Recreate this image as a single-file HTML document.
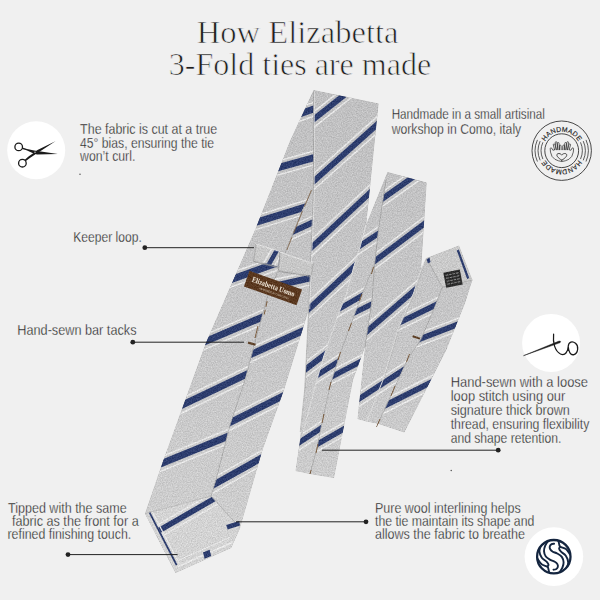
<!DOCTYPE html>
<html><head><meta charset="utf-8"><title>How Elizabetta 3-Fold ties are made</title>
<style>html,body{margin:0;padding:0;background:#f0f0f0;}svg{display:block}</style></head>
<body><svg width="600" height="600" viewBox="0 0 600 600">
<defs><clipPath id="c1"><polygon points="313.6,90.0 290.0,141.0 255.0,230.0 206.0,342.5 162.5,462.5 145.0,513.6 175.6,573.0 211.0,496.0 216.0,480.0 230.0,425.0 245.0,380.0 254.0,346.0 267.0,298.0 302.5,210.0 313.5,187.0 314.0,106.0"/></clipPath><clipPath id="c2"><polygon points="313.5,187.0 302.5,210.0 267.0,298.0 254.0,346.0 245.0,380.0 230.0,425.0 216.0,480.0 211.0,496.0 240.0,528.0 262.5,450.0 284.0,390.0 309.0,309.0 318.0,250.0 318.0,100.0"/></clipPath><clipPath id="c3"><polygon points="145.0,513.6 211.0,496.0 240.0,528.0 231.0,548.0 175.6,573.0"/></clipPath><clipPath id="c4"><polygon points="150.5,512.6 211.0,496.0 240.0,528.0 231.0,548.0 177.5,565.5"/></clipPath><clipPath id="c5"><polygon points="313.6,90.0 378.6,103.6 366.0,227.0 360.0,247.0 354.0,266.0 346.0,295.0 338.0,315.0 323.5,357.0 316.0,383.0 303.0,432.0 300.0,440.0 305.0,390.0 309.0,309.0 314.0,187.0"/></clipPath><clipPath id="c6"><polygon points="387.5,172.0 386.0,180.0 378.7,228.0 374.7,264.0 370.7,273.3 361.0,297.3 350.0,326.7 339.3,356.0 330.0,386.0 323.0,418.0 317.0,448.0 310.0,474.0 295.5,471.0 300.0,440.0 303.0,432.0 316.0,383.0 323.5,357.0 338.0,315.0 346.0,295.0 354.0,266.0 360.0,247.0 366.0,225.0"/></clipPath><clipPath id="c7"><polygon points="374.7,264.0 372.0,300.0 365.0,347.0 353.0,380.0 334.0,478.0 310.0,474.0 317.0,448.0 323.0,418.0 330.0,386.0 339.3,356.0 350.0,326.7 361.0,297.3 370.7,273.3"/></clipPath><clipPath id="c8"><polygon points="387.5,172.0 426.7,182.5 422.0,255.0 421.0,270.0 413.7,292.7 398.3,328.7 383.0,380.0 366.5,421.5 357.5,419.0 365.0,347.0 372.0,300.0 374.7,264.0 378.7,228.0 386.0,180.0"/></clipPath><clipPath id="c9"><polygon points="426.4,258.0 421.0,270.0 413.7,292.7 398.3,328.7 383.0,380.0 366.5,421.5 378.0,423.7 393.0,391.0 408.0,358.4 421.0,339.3 435.7,304.7 442.3,287.3"/></clipPath><clipPath id="c10"><polygon points="442.3,287.3 435.7,304.7 421.0,339.3 408.0,358.4 393.0,391.0 378.0,423.7 404.3,432.5 446.3,350.0 465.0,303.3 472.4,280.0"/></clipPath><clipPath id="c11"><polygon points="426.4,258.0 459.0,245.6 472.4,280.0 442.3,287.3"/></clipPath><clipPath id="c12"><polygon points="256.0,244.0 280.0,251.5 278.5,266.5 253.8,260.5"/></clipPath><clipPath id="c13"><polygon points="280.0,252.2 313.0,263.5 311.5,275.5 278.5,270.2"/></clipPath>
<linearGradient id="fabg" gradientUnits="userSpaceOnUse" x1="0" y1="90" x2="0" y2="575"><stop offset="0" stop-color="#c0c0c1"/><stop offset="0.5" stop-color="#c6c6c7"/><stop offset="1" stop-color="#d0d0d0"/></linearGradient>
<filter id="fab" x="0" y="0" width="100%" height="100%" color-interpolation-filters="sRGB">
<feTurbulence type="fractalNoise" baseFrequency="0.8" numOctaves="2" seed="7" result="n"/>
<feColorMatrix in="n" type="matrix" values="1 0 0 0 0  1 0 0 0 0  1 0 0 0 0  0 0 0 0 1" result="g"/>
<feComposite in="SourceGraphic" in2="g" operator="arithmetic" k1="0" k2="1" k3="0.22" k4="-0.11" result="m"/>
<feComposite in="m" in2="SourceAlpha" operator="in"/>
</filter></defs>
<rect width="600" height="600" fill="#f0f0f0"/>
<g id="tie" filter="url(#fab)">
<polygon points="313.6,90.0 290.0,141.0 255.0,230.0 206.0,342.5 162.5,462.5 145.0,513.6 175.6,573.0 211.0,496.0 216.0,480.0 230.0,425.0 245.0,380.0 254.0,346.0 267.0,298.0 302.5,210.0 313.5,187.0 314.0,106.0" fill="url(#fabg)"/>
<g clip-path="url(#c1)"><line x1="275.4" y1="122.4" x2="342.8" y2="98.9" stroke="#2d3d6e" stroke-width="6.9"/><line x1="273.3" y1="116.4" x2="340.7" y2="92.9" stroke="#e8e8e8" stroke-width="1.4"/><line x1="277.7" y1="128.9" x2="345.1" y2="105.4" stroke="#e8e8e8" stroke-width="1.4"/><line x1="249.9" y1="175.6" x2="343.4" y2="149.4" stroke="#2d3d6e" stroke-width="6.9"/><line x1="248.1" y1="169.5" x2="341.7" y2="143.3" stroke="#e8e8e8" stroke-width="1.4"/><line x1="251.7" y1="182.3" x2="345.3" y2="156.1" stroke="#e8e8e8" stroke-width="1.4"/><line x1="226.3" y1="231.3" x2="332.4" y2="198.7" stroke="#2d3d6e" stroke-width="6.9"/><line x1="224.5" y1="225.3" x2="330.6" y2="192.6" stroke="#e8e8e8" stroke-width="1.4"/><line x1="228.4" y1="238.0" x2="334.5" y2="205.3" stroke="#e8e8e8" stroke-width="1.4"/><line x1="201.8" y1="290.3" x2="285.7" y2="259.7" stroke="#2d3d6e" stroke-width="6.9"/><line x1="199.6" y1="284.3" x2="283.5" y2="253.8" stroke="#e8e8e8" stroke-width="1.4"/><line x1="204.2" y1="296.8" x2="288.1" y2="266.3" stroke="#e8e8e8" stroke-width="1.4"/><line x1="181.2" y1="351.8" x2="292.6" y2="304.2" stroke="#2d3d6e" stroke-width="6.9"/><line x1="178.7" y1="345.9" x2="290.1" y2="298.4" stroke="#e8e8e8" stroke-width="1.4"/><line x1="183.9" y1="358.2" x2="295.3" y2="310.6" stroke="#e8e8e8" stroke-width="1.4"/><line x1="157.9" y1="416.7" x2="272.1" y2="362.0" stroke="#2d3d6e" stroke-width="6.9"/><line x1="155.2" y1="411.0" x2="269.3" y2="356.3" stroke="#e8e8e8" stroke-width="1.4"/><line x1="160.9" y1="423.0" x2="275.1" y2="368.3" stroke="#e8e8e8" stroke-width="1.4"/><line x1="136.0" y1="473.8" x2="252.8" y2="426.2" stroke="#2d3d6e" stroke-width="6.9"/><line x1="133.6" y1="468.0" x2="250.4" y2="420.3" stroke="#e8e8e8" stroke-width="1.4"/><line x1="138.6" y1="480.3" x2="255.4" y2="432.6" stroke="#e8e8e8" stroke-width="1.4"/></g>
<polygon points="313.5,187.0 302.5,210.0 267.0,298.0 254.0,346.0 245.0,380.0 230.0,425.0 216.0,480.0 211.0,496.0 240.0,528.0 262.5,450.0 284.0,390.0 309.0,309.0 318.0,250.0 318.0,100.0" fill="url(#fabg)"/>
<g clip-path="url(#c2)"><line x1="270.3" y1="242.1" x2="340.5" y2="209.6" stroke="#2d3d6e" stroke-width="6.0"/><line x1="267.8" y1="236.7" x2="338.1" y2="204.3" stroke="#e8e8e8" stroke-width="1.4"/><line x1="273.0" y1="248.0" x2="343.3" y2="215.5" stroke="#e8e8e8" stroke-width="1.4"/><line x1="260.7" y1="288.9" x2="333.1" y2="273.1" stroke="#2d3d6e" stroke-width="6.7"/><line x1="259.4" y1="282.8" x2="331.7" y2="267.0" stroke="#e8e8e8" stroke-width="1.4"/><line x1="262.1" y1="295.6" x2="334.5" y2="279.8" stroke="#e8e8e8" stroke-width="1.4"/><line x1="224.4" y1="366.4" x2="329.8" y2="318.6" stroke="#2d3d6e" stroke-width="6.7"/><line x1="221.8" y1="360.7" x2="327.3" y2="312.9" stroke="#e8e8e8" stroke-width="1.4"/><line x1="227.2" y1="372.6" x2="332.7" y2="324.9" stroke="#e8e8e8" stroke-width="1.4"/><line x1="203.2" y1="435.9" x2="306.8" y2="384.1" stroke="#2d3d6e" stroke-width="6.7"/><line x1="200.4" y1="430.3" x2="304.0" y2="378.5" stroke="#e8e8e8" stroke-width="1.4"/><line x1="206.2" y1="442.0" x2="309.9" y2="390.2" stroke="#e8e8e8" stroke-width="1.4"/><line x1="182.6" y1="502.2" x2="286.2" y2="444.1" stroke="#2d3d6e" stroke-width="6.7"/><line x1="179.5" y1="496.7" x2="283.1" y2="438.6" stroke="#e8e8e8" stroke-width="1.4"/><line x1="185.9" y1="508.2" x2="289.5" y2="450.0" stroke="#e8e8e8" stroke-width="1.4"/></g>
<polygon points="145.0,513.6 211.0,496.0 240.0,528.0 231.0,548.0 175.6,573.0" fill="#d3d3d3"/>
<g clip-path="url(#c3)"></g>
<polygon points="150.5,512.6 211.0,496.0 240.0,528.0 231.0,548.0 177.5,565.5" fill="#d3d3d3"/>
<g clip-path="url(#c4)"><line x1="134.0" y1="545.0" x2="238.0" y2="485.0" stroke="#2d3d6e" stroke-width="5.6"/><line x1="131.2" y1="540.1" x2="235.1" y2="480.1" stroke="#e8e8e8" stroke-width="1.4"/><line x1="137.2" y1="550.4" x2="241.1" y2="490.5" stroke="#e8e8e8" stroke-width="1.4"/></g>
<polygon points="313.6,90.0 378.6,103.6 366.0,227.0 360.0,247.0 354.0,266.0 346.0,295.0 338.0,315.0 323.5,357.0 316.0,383.0 303.0,432.0 300.0,440.0 305.0,390.0 309.0,309.0 314.0,187.0" fill="url(#fabg)"/>
<g clip-path="url(#c5)"><line x1="291.8" y1="136.6" x2="361.5" y2="81.4" stroke="#2d3d6e" stroke-width="5.8"/><line x1="288.2" y1="132.1" x2="357.9" y2="76.8" stroke="#e8e8e8" stroke-width="1.4"/><line x1="295.8" y1="141.7" x2="365.5" y2="86.4" stroke="#e8e8e8" stroke-width="1.4"/><line x1="292.9" y1="199.7" x2="400.4" y2="103.7" stroke="#2d3d6e" stroke-width="5.8"/><line x1="289.1" y1="195.4" x2="396.5" y2="99.4" stroke="#e8e8e8" stroke-width="1.4"/><line x1="297.2" y1="204.5" x2="404.6" y2="108.5" stroke="#e8e8e8" stroke-width="1.4"/><line x1="292.1" y1="265.5" x2="391.9" y2="172.3" stroke="#2d3d6e" stroke-width="5.8"/><line x1="288.1" y1="261.2" x2="388.0" y2="168.1" stroke="#e8e8e8" stroke-width="1.4"/><line x1="296.4" y1="270.1" x2="396.3" y2="177.0" stroke="#e8e8e8" stroke-width="1.4"/><line x1="289.4" y1="327.2" x2="374.6" y2="247.5" stroke="#2d3d6e" stroke-width="5.8"/><line x1="285.4" y1="322.9" x2="370.7" y2="243.3" stroke="#e8e8e8" stroke-width="1.4"/><line x1="293.8" y1="331.9" x2="379.0" y2="252.2" stroke="#e8e8e8" stroke-width="1.4"/><line x1="282.2" y1="387.3" x2="347.1" y2="337.4" stroke="#2d3d6e" stroke-width="5.8"/><line x1="278.7" y1="382.7" x2="343.5" y2="332.8" stroke="#e8e8e8" stroke-width="1.4"/><line x1="286.1" y1="392.4" x2="351.0" y2="342.5" stroke="#e8e8e8" stroke-width="1.4"/></g>
<polygon points="387.5,172.0 386.0,180.0 378.7,228.0 374.7,264.0 370.7,273.3 361.0,297.3 350.0,326.7 339.3,356.0 330.0,386.0 323.0,418.0 317.0,448.0 310.0,474.0 295.5,471.0 300.0,440.0 303.0,432.0 316.0,383.0 323.5,357.0 338.0,315.0 346.0,295.0 354.0,266.0 360.0,247.0 366.0,225.0" fill="url(#fabg)"/>
<g clip-path="url(#c6)"><line x1="335.7" y1="261.9" x2="403.7" y2="216.7" stroke="#2d3d6e" stroke-width="5.4"/><line x1="332.6" y1="257.3" x2="400.6" y2="212.0" stroke="#e8e8e8" stroke-width="1.4"/><line x1="339.2" y1="267.1" x2="407.1" y2="221.8" stroke="#e8e8e8" stroke-width="1.4"/><line x1="313.0" y1="324.0" x2="391.0" y2="279.0" stroke="#2d3d6e" stroke-width="5.4"/><line x1="310.2" y1="319.1" x2="388.2" y2="274.2" stroke="#e8e8e8" stroke-width="1.4"/><line x1="316.1" y1="329.4" x2="394.1" y2="284.4" stroke="#e8e8e8" stroke-width="1.4"/><line x1="292.3" y1="391.2" x2="366.0" y2="343.8" stroke="#2d3d6e" stroke-width="5.4"/><line x1="289.2" y1="386.5" x2="363.0" y2="339.1" stroke="#e8e8e8" stroke-width="1.4"/><line x1="295.6" y1="396.5" x2="369.4" y2="349.0" stroke="#e8e8e8" stroke-width="1.4"/><line x1="274.9" y1="458.4" x2="348.1" y2="410.6" stroke="#2d3d6e" stroke-width="5.4"/><line x1="271.8" y1="453.7" x2="345.1" y2="405.9" stroke="#e8e8e8" stroke-width="1.4"/><line x1="278.3" y1="463.6" x2="351.5" y2="415.8" stroke="#e8e8e8" stroke-width="1.4"/></g>
<polygon points="374.7,264.0 372.0,300.0 365.0,347.0 353.0,380.0 334.0,478.0 310.0,474.0 317.0,448.0 323.0,418.0 330.0,386.0 339.3,356.0 350.0,326.7 361.0,297.3 370.7,273.3" fill="url(#fabg)"/>
<g clip-path="url(#c7)"><line x1="331.2" y1="324.4" x2="394.8" y2="292.6" stroke="#2d3d6e" stroke-width="5.4"/><line x1="328.7" y1="319.4" x2="392.3" y2="287.6" stroke="#e8e8e8" stroke-width="1.4"/><line x1="333.9" y1="330.0" x2="397.6" y2="298.1" stroke="#e8e8e8" stroke-width="1.4"/><line x1="310.4" y1="387.9" x2="386.6" y2="348.1" stroke="#2d3d6e" stroke-width="5.4"/><line x1="307.8" y1="382.9" x2="384.0" y2="343.2" stroke="#e8e8e8" stroke-width="1.4"/><line x1="313.3" y1="393.4" x2="389.5" y2="353.6" stroke="#e8e8e8" stroke-width="1.4"/><line x1="295.0" y1="456.9" x2="368.0" y2="415.1" stroke="#2d3d6e" stroke-width="5.4"/><line x1="292.2" y1="452.0" x2="365.3" y2="410.3" stroke="#e8e8e8" stroke-width="1.4"/><line x1="298.0" y1="462.3" x2="371.1" y2="420.5" stroke="#e8e8e8" stroke-width="1.4"/></g>
<polygon points="387.5,172.0 426.7,182.5 422.0,255.0 421.0,270.0 413.7,292.7 398.3,328.7 383.0,380.0 366.5,421.5 357.5,419.0 365.0,347.0 372.0,300.0 374.7,264.0 378.7,228.0 386.0,180.0" fill="url(#fabg)"/>
<g clip-path="url(#c8)"><line x1="359.7" y1="214.8" x2="437.0" y2="160.2" stroke="#2d3d6e" stroke-width="5.6"/><line x1="356.4" y1="210.2" x2="433.7" y2="155.5" stroke="#e8e8e8" stroke-width="1.4"/><line x1="363.3" y1="220.0" x2="440.6" y2="165.3" stroke="#e8e8e8" stroke-width="1.4"/><line x1="354.3" y1="276.3" x2="445.7" y2="207.8" stroke="#2d3d6e" stroke-width="5.6"/><line x1="350.9" y1="271.7" x2="442.3" y2="203.3" stroke="#e8e8e8" stroke-width="1.4"/><line x1="358.1" y1="281.3" x2="449.5" y2="212.9" stroke="#e8e8e8" stroke-width="1.4"/><line x1="344.7" y1="350.6" x2="436.7" y2="271.1" stroke="#2d3d6e" stroke-width="5.6"/><line x1="341.0" y1="346.3" x2="433.0" y2="266.8" stroke="#e8e8e8" stroke-width="1.4"/><line x1="348.8" y1="355.4" x2="440.8" y2="275.8" stroke="#e8e8e8" stroke-width="1.4"/><line x1="335.2" y1="414.4" x2="432.2" y2="351.3" stroke="#2d3d6e" stroke-width="5.6"/><line x1="332.1" y1="409.6" x2="429.0" y2="346.6" stroke="#e8e8e8" stroke-width="1.4"/><line x1="338.7" y1="419.6" x2="435.6" y2="356.6" stroke="#e8e8e8" stroke-width="1.4"/></g>
<polygon points="426.4,258.0 421.0,270.0 413.7,292.7 398.3,328.7 383.0,380.0 366.5,421.5 378.0,423.7 393.0,391.0 408.0,358.4 421.0,339.3 435.7,304.7 442.3,287.3" fill="url(#fabg)"/>
<g clip-path="url(#c9)"><line x1="375.3" y1="334.5" x2="463.3" y2="291.5" stroke="#2d3d6e" stroke-width="5.6"/><line x1="372.8" y1="329.3" x2="460.8" y2="286.4" stroke="#e8e8e8" stroke-width="1.4"/><line x1="378.1" y1="340.1" x2="466.0" y2="297.2" stroke="#e8e8e8" stroke-width="1.4"/><line x1="335.2" y1="414.4" x2="432.2" y2="351.3" stroke="#2d3d6e" stroke-width="5.6"/><line x1="332.1" y1="409.6" x2="429.0" y2="346.6" stroke="#e8e8e8" stroke-width="1.4"/><line x1="338.7" y1="419.6" x2="435.6" y2="356.6" stroke="#e8e8e8" stroke-width="1.4"/></g>
<polygon points="442.3,287.3 435.7,304.7 421.0,339.3 408.0,358.4 393.0,391.0 378.0,423.7 404.3,432.5 446.3,350.0 465.0,303.3 472.4,280.0" fill="url(#fabg)"/>
<g clip-path="url(#c10)"><line x1="394.3" y1="348.8" x2="479.7" y2="315.9" stroke="#2d3d6e" stroke-width="5.6"/><line x1="392.3" y1="343.4" x2="477.7" y2="310.6" stroke="#e8e8e8" stroke-width="1.4"/><line x1="396.6" y1="354.6" x2="482.0" y2="321.8" stroke="#e8e8e8" stroke-width="1.4"/><line x1="365.2" y1="415.4" x2="446.8" y2="374.6" stroke="#2d3d6e" stroke-width="5.6"/><line x1="362.6" y1="410.3" x2="444.3" y2="369.5" stroke="#e8e8e8" stroke-width="1.4"/><line x1="368.0" y1="421.1" x2="449.7" y2="380.2" stroke="#e8e8e8" stroke-width="1.4"/></g>
<polygon points="426.4,258.0 459.0,245.6 472.4,280.0 442.3,287.3" fill="#cacaca"/>
<g clip-path="url(#c11)"></g>
<polyline points="313.5,92.0 313.6,187.0 308.6,309.0 304.6,390.0 300.2,432.0" fill="none" stroke="#a8a8a8" stroke-width="0.9" opacity="0.8"/>
<polyline points="314.5,92.0 314.6,187.0 309.7,309.0" fill="none" stroke="#e4e4e4" stroke-width="0.8" opacity="0.8"/>
<polyline points="313.5,187.0 302.5,210.0 267.0,298.0 254.0,346.0 245.0,380.0 230.0,425.0 216.0,480.0 211.0,496.0" fill="none" stroke="#adadad" stroke-width="0.8" opacity="0.8"/>
<polyline points="211.0,496.0 240.0,528.0" fill="none" stroke="#b2b2b2" stroke-width="0.8"/>
<polyline points="145.0,513.6 211.0,496.0" fill="none" stroke="#b8b8b8" stroke-width="0.8"/>
<polyline points="366.0,225.0 360.0,247.0 354.0,266.0 346.0,295.0 338.0,315.0 323.5,357.0 316.0,383.0 303.0,432.0" fill="none" stroke="#e4e4e4" stroke-width="1.0" opacity="0.9"/>
<polyline points="386.0,180.0 378.7,228.0 374.7,264.0 372.0,300.0 365.0,347.0" fill="none" stroke="#a8a8a8" stroke-width="0.9" opacity="0.8"/>
<polyline points="374.7,264.0 370.7,273.3 361.0,297.3 350.0,326.7 339.3,356.0 330.0,386.0 323.0,418.0 317.0,448.0 310.0,474.0" fill="none" stroke="#b0b0b0" stroke-width="0.8" opacity="0.8"/>
<polyline points="426.4,258.0 421.0,270.0 413.7,292.7 398.3,328.7 383.0,380.0 366.5,421.5" fill="none" stroke="#e4e4e4" stroke-width="1.0" opacity="0.9"/>
<polyline points="427.3,258.0 421.9,270.0 414.6,292.7 399.2,328.7 383.9,380.0" fill="none" stroke="#a8a8a8" stroke-width="0.7" opacity="0.6"/>
<polyline points="442.3,287.3 435.7,304.7 421.0,339.3 408.0,358.4 393.0,391.0 378.0,423.7" fill="none" stroke="#adadad" stroke-width="0.8" opacity="0.8"/>
<polyline points="426.4,258.0 442.3,287.3 472.4,280.0" fill="none" stroke="#b0b0b0" stroke-width="0.8"/>
<polygon points="226.2,525.0 239.2,521.0 240.0,525.5 227.6,529.5" fill="#2d3d6e"/>
<polyline points="149.6,512.6 176.6,565.0" fill="none" stroke="#2d3d6e" stroke-width="1.7"/>
<polyline points="152.5,512.0 179.0,563.5" fill="none" stroke="#e8e8e8" stroke-width="1.2"/>
<polyline points="178.0,566.5 232.0,542.5" fill="none" stroke="#e8e8e8" stroke-width="1.6"/>
<polyline points="176.8,561.0 229.5,537.5" fill="none" stroke="#e8e8e8" stroke-width="1.0"/>
<polygon points="203.0,552.6 209.6,549.8 211.2,556.0 204.6,558.8" fill="#2d3d6e"/>
<polygon points="256.0,244.0 280.0,251.5 278.5,266.5 253.8,260.5" fill="#c9c9c9"/>
<g clip-path="url(#c12)"><line x1="252.5" y1="293.4" x2="291.8" y2="223.9" stroke="#2d3d6e" stroke-width="4.4"/><line x1="248.0" y1="290.9" x2="287.3" y2="221.4" stroke="#e8e8e8" stroke-width="1.4"/><line x1="257.5" y1="296.2" x2="296.7" y2="226.7" stroke="#e8e8e8" stroke-width="1.4"/></g>
<polygon points="280.0,252.2 313.0,263.5 311.5,275.5 278.5,270.2" fill="#c7c7c7"/>
<g clip-path="url(#c13)"></g>
<polyline points="280.0,251.5 278.5,270.0" fill="none" stroke="#9a9a9a" stroke-width="0.9"/>
<polyline points="253.2,261.3 278.3,267.4" fill="none" stroke="#9c9c9c" stroke-width="1.3" opacity="0.8"/>
<polyline points="278.3,271.0 311.3,276.4" fill="none" stroke="#9c9c9c" stroke-width="1.3" opacity="0.8"/>
<polyline points="256.0,244.0 253.8,260.5" fill="none" stroke="#a2a2a2" stroke-width="1.0" opacity="0.8"/>
<polyline points="256.0,244.0 280.0,251.5" fill="none" stroke="#e3e3e3" stroke-width="0.9"/>
<polyline points="280.0,252.2 313.0,263.5" fill="none" stroke="#e3e3e3" stroke-width="0.9"/>
<polyline points="313.0,263.5 311.5,275.5" fill="none" stroke="#a2a2a2" stroke-width="0.9" opacity="0.8"/>
<polyline points="311.5,190.0 302.5,211.0 286.8,250.0" fill="none" stroke="#7b5c3e" stroke-width="0.9" opacity="0.85" stroke-dasharray="18 5 24 4 20 3"/>
<polyline points="267.2,301.0 264.2,314.5" fill="none" stroke="#7b5c3e" stroke-width="1.0" stroke-dasharray="6 3"/>
<polyline points="258.0,326.0 255.0,338.0" fill="none" stroke="#7b5c3e" stroke-width="1.0"/>
<polyline points="248.0,342.6 255.6,344.8" fill="none" stroke="#5d4027" stroke-width="2.2"/>
<g transform="translate(273,288) rotate(19.6)"><rect x="-27.9" y="-8.3" width="55.8" height="16.6" fill="#5a381f"/><text x="0" y="1.2" text-anchor="middle" font-family="'Liberation Serif', serif" font-weight="bold" font-size="7.6" fill="#efe6d8" textLength="45" lengthAdjust="spacingAndGlyphs">Elizabetta Uomo</text><text x="3" y="5.6" text-anchor="middle" font-family="'Liberation Sans', sans-serif" font-size="2.6" fill="#d8cbb8" textLength="32" lengthAdjust="spacingAndGlyphs">HANDMADE IN COMO, ITALY</text></g>
<polyline points="373.5,267.0 371.5,274.0" fill="none" stroke="#7b5c3e" stroke-width="1.0"/>
<polyline points="362.0,294.0 359.5,301.0" fill="none" stroke="#7b5c3e" stroke-width="1.0"/>
<polyline points="351.5,323.0 348.5,331.0" fill="none" stroke="#7b5c3e" stroke-width="1.0"/>
<polyline points="340.5,352.0 338.0,360.0" fill="none" stroke="#7b5c3e" stroke-width="1.0"/>
<polyline points="331.0,382.0 329.0,390.0" fill="none" stroke="#7b5c3e" stroke-width="1.0"/>
<polyline points="324.0,414.0 322.0,423.0" fill="none" stroke="#7b5c3e" stroke-width="1.0"/>
<polyline points="318.0,444.0 316.0,453.0" fill="none" stroke="#7b5c3e" stroke-width="1.0"/>
<polyline points="311.0,470.0 310.0,474.0" fill="none" stroke="#7b5c3e" stroke-width="1.0"/>
<polyline points="412.6,336.2 420.0,338.6" fill="none" stroke="#5d4027" stroke-width="2.0"/>
<polyline points="409.5,354.0 406.5,362.0" fill="none" stroke="#7b5c3e" stroke-width="1.0"/>
<polyline points="395.0,386.0 391.0,396.0" fill="none" stroke="#7b5c3e" stroke-width="1.0"/>
<polyline points="380.0,419.0 376.5,427.0" fill="none" stroke="#7b5c3e" stroke-width="1.0"/>
<polyline points="457.8,250.0 468.2,278.5" fill="none" stroke="#2d3d6e" stroke-width="2.2"/>
<polygon points="426.6,259.5 429.5,257.5 430.5,262.0 428.0,263.5" fill="#2d3d6e"/>
<g transform="translate(453,278.6) rotate(-11)"><rect x="-8.4" y="-7.6" width="16.8" height="15.2" fill="#2b2b2b"/><g stroke="#9a9a9a" stroke-width="0.8"><line x1="-6.6" y1="-4.6" x2="6.6" y2="-4.6"/><line x1="-6.6" y1="-1.6" x2="6.6" y2="-1.6"/><line x1="-6.6" y1="1.4" x2="6.6" y2="1.4"/><line x1="-6.6" y1="4.4" x2="6.6" y2="4.4"/></g><g stroke="#2b2b2b" stroke-width="0.9"><line x1="0" y1="-7" x2="0" y2="7"/><line x1="-3.4" y1="-7" x2="-3.4" y2="7"/><line x1="3.4" y1="-7" x2="3.4" y2="7"/></g></g>
</g>
<text x="196.8" y="42.6" font-family="'Liberation Serif', serif" font-size="32" fill="#1e1e1e" textLength="201.7" lengthAdjust="spacingAndGlyphs" stroke="#f0f0f0" stroke-width="0.7">How Elizabetta</text>
<text x="168.8" y="75.3" font-family="'Liberation Serif', serif" font-size="32" fill="#1e1e1e" textLength="262.4" lengthAdjust="spacingAndGlyphs" stroke="#f0f0f0" stroke-width="0.7">3-Fold ties are made</text>
<text x="80.1" y="133.7" font-family="'Liberation Sans', sans-serif" font-size="13.9" fill="#181818" textLength="137.1" lengthAdjust="spacingAndGlyphs" stroke="#f0f0f0" stroke-width="0.28">The fabric is cut at a true</text>
<text x="80.1" y="147.5" font-family="'Liberation Sans', sans-serif" font-size="13.9" fill="#181818" textLength="133.9" lengthAdjust="spacingAndGlyphs" stroke="#f0f0f0" stroke-width="0.28">45° bias, ensuring the tie</text>
<text x="80.1" y="160.9" font-family="'Liberation Sans', sans-serif" font-size="13.9" fill="#181818" textLength="55.2" lengthAdjust="spacingAndGlyphs" stroke="#f0f0f0" stroke-width="0.28">won’t curl.</text>
<circle cx="80" cy="174.2" r="0.7" fill="#444"/>
<text x="73.3" y="242.3" font-family="'Liberation Sans', sans-serif" font-size="13.9" fill="#181818" textLength="68.5" lengthAdjust="spacingAndGlyphs" stroke="#f0f0f0" stroke-width="0.28">Keeper loop.</text>
<text x="17.3" y="335.1" font-family="'Liberation Sans', sans-serif" font-size="13.9" fill="#181818" textLength="119.2" lengthAdjust="spacingAndGlyphs" stroke="#f0f0f0" stroke-width="0.28">Hand-sewn bar tacks</text>
<text x="8" y="512.7" font-family="'Liberation Sans', sans-serif" font-size="13.9" fill="#181818" textLength="118.7" lengthAdjust="spacingAndGlyphs" stroke="#f0f0f0" stroke-width="0.28">Tipped with the same</text>
<text x="12" y="526" font-family="'Liberation Sans', sans-serif" font-size="13.9" fill="#181818" textLength="126.7" lengthAdjust="spacingAndGlyphs" stroke="#f0f0f0" stroke-width="0.28">fabric as the front for a</text>
<text x="7.5" y="539.3" font-family="'Liberation Sans', sans-serif" font-size="13.9" fill="#181818" textLength="123.7" lengthAdjust="spacingAndGlyphs" stroke="#f0f0f0" stroke-width="0.28">refined finishing touch.</text>
<text x="391.7" y="118.8" font-family="'Liberation Sans', sans-serif" font-size="13.9" fill="#181818" textLength="153.2" lengthAdjust="spacingAndGlyphs" stroke="#f0f0f0" stroke-width="0.28">Handmade in a small artisinal</text>
<text x="391.7" y="133.5" font-family="'Liberation Sans', sans-serif" font-size="13.9" fill="#181818" textLength="129.5" lengthAdjust="spacingAndGlyphs" stroke="#f0f0f0" stroke-width="0.28">workshop in Como, italy</text>
<text x="450.7" y="387.3" font-family="'Liberation Sans', sans-serif" font-size="13.9" fill="#181818" textLength="137.3" lengthAdjust="spacingAndGlyphs" stroke="#f0f0f0" stroke-width="0.28">Hand-sewn with a loose</text>
<text x="450.7" y="401.2" font-family="'Liberation Sans', sans-serif" font-size="13.9" fill="#181818" textLength="114.6" lengthAdjust="spacingAndGlyphs" stroke="#f0f0f0" stroke-width="0.28">loop stitch using our</text>
<text x="450.7" y="414.8" font-family="'Liberation Sans', sans-serif" font-size="13.9" fill="#181818" textLength="119.2" lengthAdjust="spacingAndGlyphs" stroke="#f0f0f0" stroke-width="0.28">signature thick brown</text>
<text x="450.7" y="428.7" font-family="'Liberation Sans', sans-serif" font-size="13.9" fill="#181818" textLength="138.6" lengthAdjust="spacingAndGlyphs" stroke="#f0f0f0" stroke-width="0.28">thread, ensuring flexibility</text>
<text x="450.7" y="442.5" font-family="'Liberation Sans', sans-serif" font-size="13.9" fill="#181818" textLength="110.6" lengthAdjust="spacingAndGlyphs" stroke="#f0f0f0" stroke-width="0.28">and shape retention.</text>
<circle cx="451.2" cy="470.5" r="0.7" fill="#444"/>
<text x="375" y="512.7" font-family="'Liberation Sans', sans-serif" font-size="13.9" fill="#181818" textLength="145.7" lengthAdjust="spacingAndGlyphs" stroke="#f0f0f0" stroke-width="0.28">Pure wool interlining helps</text>
<text x="375" y="526" font-family="'Liberation Sans', sans-serif" font-size="13.9" fill="#181818" textLength="159.3" lengthAdjust="spacingAndGlyphs" stroke="#f0f0f0" stroke-width="0.28">the tie maintain its shape and</text>
<text x="375" y="539.3" font-family="'Liberation Sans', sans-serif" font-size="13.9" fill="#181818" textLength="150" lengthAdjust="spacingAndGlyphs" stroke="#f0f0f0" stroke-width="0.28">allows the fabric to breathe</text>
<line x1="144.8" y1="247.7" x2="254" y2="247.7" stroke="#222" stroke-width="1"/><circle cx="144.8" cy="247.7" r="2.4" fill="#222"/>
<line x1="132.8" y1="342.2" x2="244" y2="342.2" stroke="#222" stroke-width="1"/><circle cx="132.8" cy="342.2" r="2.4" fill="#222"/>
<line x1="68" y1="554.6" x2="177.6" y2="554.6" stroke="#222" stroke-width="1"/><circle cx="68" cy="554.6" r="2.4" fill="#222"/>
<line x1="236" y1="521.8" x2="366" y2="521.8" stroke="#222" stroke-width="1"/><circle cx="366" cy="521.8" r="2.4" fill="#222"/>
<line x1="322" y1="450.2" x2="498.2" y2="450.2" stroke="#222" stroke-width="1"/><circle cx="498.2" cy="450.2" r="2.4" fill="#222"/>
<circle cx="36.2" cy="150.3" r="29" fill="#fff"/>
<g fill="none" stroke="#1a1a1a" stroke-width="1.3">
<circle cx="18.7" cy="146.9" r="3.8"/><circle cx="22.4" cy="163.2" r="3.8"/>
</g>
<path d="M22.4,147.6 L27,148.9 L34.2,150.5 L37.5,151.1 L57.8,154.1 L37,154.4 L33.6,153.4 L26.5,150.3 L22.1,149.1 Z" fill="#1a1a1a"/>
<path d="M24.5,159.9 L28.5,156.5 L32.8,153.6 L37.5,150 L55.4,141.2 L41,150.7 L37.5,152.8 L34,155.3 L29.5,158.2 L25.6,161.2 Z" fill="#1a1a1a"/>
<circle cx="35" cy="152.2" r="0.65" fill="#fff"/>
<circle cx="551.1" cy="342.9" r="29" fill="#fff"/>
<path d="M523.5,355.7 L558.5,341.3 Q560.8,340.6 560.6,341.8 Q560.3,342.9 558.9,343.1 Z" fill="#1a1a1a" stroke="#1a1a1a" stroke-width="0.5" stroke-linejoin="round"/>
<path d="M553.6,334.2 C552.8,342 554.5,351 560.5,354 C565.5,356.2 568,351 568.2,346.5 C568.5,341.5 572.5,340.8 575.5,343.2 C579,346 578.2,353 574,354.6 C570.5,355.6 568.6,351.5 568.2,346.5" fill="none" stroke="#1a1a1a" stroke-width="1.25" stroke-linecap="round"/>
<g fill="none" stroke="#333" stroke-width="0.9">
<circle cx="561.7" cy="150.7" r="29.7"/><circle cx="561.7" cy="150.7" r="16.9"/>
</g>
<g fill="none" stroke="#333" stroke-width="0.8"><path d="M580.52,142.32 A20.6,20.6 0 0 1 580.52,159.08"/><path d="M542.88,159.08 A20.6,20.6 0 0 1 542.88,142.32"/><path d="M583.26,141.10 A23.6,23.6 0 0 1 583.26,160.30"/><path d="M540.14,160.30 A23.6,23.6 0 0 1 540.14,141.10"/><path d="M586.00,139.88 A26.6,26.6 0 0 1 586.00,161.52"/><path d="M537.40,161.52 A26.6,26.6 0 0 1 537.40,139.88"/></g>
<path id="arcT" d="M542.7,150.7 A19.0,19.0 0 0 1 580.7,150.7" fill="none"/>
<path id="arcB" d="M580.7,150.7 A19.0,19.0 0 0 1 542.7,150.7" fill="none"/>
<text font-family="'Liberation Sans', sans-serif" font-size="6.9" fill="#222" letter-spacing="0.1" stroke="#222" stroke-width="0.15" text-anchor="middle"><textPath href="#arcT" startOffset="50%">HANDMADE</textPath></text>
<text font-family="'Liberation Sans', sans-serif" font-size="6.9" fill="#222" letter-spacing="0.1" stroke="#222" stroke-width="0.15" text-anchor="middle"><textPath href="#arcB" startOffset="50%">HANDMADE</textPath></text>
<g fill="none" stroke="#333" stroke-width="0.75" stroke-linejoin="round" stroke-linecap="round" transform="translate(561.9,150.9)">
<path d="M-7.29,-1.20 L-8.65,-6.15 A0.85,0.85 0 0 1 -6.95,-6.15 L-5.59,-1.20 M5.59,-1.20 L6.95,-6.15 A0.85,0.85 0 0 1 8.65,-6.15 L7.29,-1.20 M-5.69,-1.20 L-6.65,-8.35 A0.85,0.85 0 0 1 -4.95,-8.35 L-3.99,-1.20 M3.99,-1.20 L4.95,-8.35 A0.85,0.85 0 0 1 6.65,-8.35 L5.69,-1.20 M-4.01,-1.20 L-4.55,-7.55 A0.85,0.85 0 0 1 -2.85,-7.55 L-2.31,-1.20 M2.31,-1.20 L2.85,-7.55 A0.85,0.85 0 0 1 4.55,-7.55 L4.01,-1.20 M-2.41,-1.20 L-2.55,-4.95 A0.85,0.85 0 0 1 -0.85,-4.95 L-0.71,-1.20 M0.71,-1.20 L0.85,-4.95 A0.85,0.85 0 0 1 2.55,-4.95 L2.41,-1.20 "/>
<path d="M-7.3,-1.2 L-9.0,-0.6 L-10.3,-2.9 Q-11.4,-3.6 -11.7,-2.2 L-11.4,1.2 Q-10.6,6.2 -7.0,8.4 Q-3.4,10.3 -0.3,10.6"/><path d="M7.3,-1.2 L9.0,-0.6 L10.3,-2.9 Q11.4,-3.6 11.7,-2.2 L11.4,1.2 Q10.6,6.2 7.0,8.4 Q3.4,10.3 0.3,10.6"/>
<path d="M-0.1,9.3 C-6.6,5.6 -5.8,2.6 -3.0,2.6 C-1.2,2.6 -0.1,4.2 -0.1,4.2 C-0.1,4.2 1.0,2.6 2.8,2.6 C5.6,2.6 6.4,5.6 -0.1,9.3 Z" stroke-width="0.9"/>
</g>
<circle cx="553.9" cy="556.6" r="29.3" fill="#fff"/>
<clipPath id="sclip"><circle cx="553.8" cy="556.7" r="17.2"/></clipPath>
<circle cx="553.8" cy="556.7" r="16.7" fill="none" stroke="#14253f" stroke-width="2.3"/>
<g clip-path="url(#sclip)"><g fill="none" stroke="#14253f" stroke-width="1.9" stroke-linecap="round" stroke-linejoin="round" transform="translate(553.8,556.7)"><path d="M0.30,-13.00 C-0.12,-12.93 -1.48,-13.03 -2.20,-12.60 C-2.92,-12.17 -3.77,-11.27 -4.00,-10.40 C-4.23,-9.53 -4.10,-8.30 -3.60,-7.40 C-3.10,-6.50 -2.17,-5.70 -1.00,-5.00 C0.17,-4.30 1.90,-4.07 3.40,-3.20 C4.90,-2.33 6.93,-1.27 8.00,0.20 C9.07,1.67 9.70,3.80 9.80,5.60 C9.90,7.40 9.30,9.30 8.60,11.00 C7.90,12.70 6.10,15.00 5.60,15.80"/><path d="M-0.30,13.00 C0.12,12.93 1.48,13.03 2.20,12.60 C2.92,12.17 3.77,11.27 4.00,10.40 C4.23,9.53 4.10,8.30 3.60,7.40 C3.10,6.50 2.17,5.70 1.00,5.00 C-0.17,4.30 -1.90,4.07 -3.40,3.20 C-4.90,2.33 -6.93,1.27 -8.00,-0.20 C-9.07,-1.67 -9.70,-3.80 -9.80,-5.60 C-9.90,-7.40 -9.30,-9.30 -8.60,-11.00 C-7.90,-12.70 -6.10,-15.00 -5.60,-15.80"/><path d="M-13.00,-11.40 C-13.23,-10.40 -14.57,-7.47 -14.40,-5.40 C-14.23,-3.33 -13.20,-0.73 -12.00,1.00 C-10.80,2.73 -8.32,3.83 -7.20,5.00 C-6.08,6.17 -5.43,7.17 -5.30,8.00 C-5.17,8.83 -6.22,9.67 -6.40,10.00"/><path d="M13.00,11.40 C13.23,10.40 14.57,7.47 14.40,5.40 C14.23,3.33 13.20,0.73 12.00,-1.00 C10.80,-2.73 8.32,-3.83 7.20,-5.00 C6.08,-6.17 5.43,-7.17 5.30,-8.00 C5.17,-8.83 6.22,-9.67 6.40,-10.00"/><path d="M-16.20,2.20 C-15.53,3.10 -13.83,6.30 -12.20,7.60 C-10.57,8.90 -7.53,9.20 -6.40,10.00 C-5.27,10.80 -5.70,11.37 -5.40,12.40 C-5.10,13.43 -4.73,15.57 -4.60,16.20"/><path d="M16.20,-2.20 C15.53,-3.10 13.83,-6.30 12.20,-7.60 C10.57,-8.90 7.53,-9.20 6.40,-10.00 C5.27,-10.80 5.70,-11.37 5.40,-12.40 C5.10,-13.43 4.73,-15.57 4.60,-16.20"/></g></g>
</svg></body></html>
